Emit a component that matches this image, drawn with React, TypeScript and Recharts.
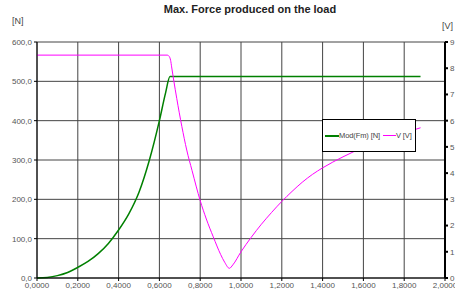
import React from "react";
import { CartesianGrid, Line, LineChart, XAxis, YAxis } from "recharts";

// Mod(Fm) [N] against travel
const forceX = [
  0, 0.05, 0.1, 0.15, 0.2, 0.25, 0.3, 0.35, 0.4, 0.45, 0.5, 0.55, 0.6, 0.63,
  0.652, 1.88,
];
const forceN = [
  0, 1.5, 6, 14, 27, 42, 62, 88, 122, 163, 218, 298, 400, 470, 512, 512,
];

// V [V] against travel
const voltX = [
  0, 0.639, 0.648, 0.655, 0.66, 0.67, 0.685, 0.71, 0.734, 0.76, 0.8, 0.83,
  0.864, 0.9, 0.92, 0.943, 0.96, 1.0, 1.05, 1.1, 1.15, 1.2, 1.25, 1.3, 1.35,
  1.4, 1.5, 1.6, 1.7, 1.8, 1.88,
];
const voltV = [
  8.5, 8.5, 8.45, 8.3, 8.05, 7.55, 6.85, 5.78, 4.88, 4.1, 2.95, 2.25, 1.57, 0.9,
  0.6, 0.37, 0.5, 1.0, 1.55, 2.05, 2.5, 2.92, 3.3, 3.65, 3.95, 4.2, 4.62, 4.98,
  5.27, 5.53, 5.73,
];

const xTicks = [0, 0.2, 0.4, 0.6, 0.8, 1.0, 1.2, 1.4, 1.6, 1.8, 2.0];
const forceTicks = [0, 100, 200, 300, 400, 500, 600];
const voltTicks = [0, 1, 2, 3, 4, 5, 6, 7, 8, 9];

const forceData = forceX.map((x, i) => ({ x, fm: forceN[i] }));
const voltData = voltX.map((x, i) => ({ x, v: voltV[i] }));

const FONT = "'Liberation Sans', Arial, sans-serif";
const tickStyle = { fill: "#555", fontSize: 8, fontFamily: FONT };

function LegendBox() {
  return (
    <div
      style={{
        position: "absolute",
        left: 322,
        top: 119,
        width: 92,
        height: 31,
        background: "#fff",
        border: "1px solid #000",
        display: "flex",
        alignItems: "center",
        fontSize: 7.5,
        color: "#444",
        whiteSpace: "nowrap",
        letterSpacing: -0.1,
      }}
    >
      <span style={{ width: 2 }} />
      <span style={{ width: 14, height: 2, background: "#008000" }} />
      <span>Mod(Fm) [N]</span>
      <span style={{ width: 3 }} />
      <span style={{ width: 13, height: 1, background: "#ff00ff" }} />
      <span>V [V]</span>
    </div>
  );
}

export default function App() {
  return (
    <div
      style={{
        position: "absolute",
        left: 0,
        top: 0,
        width: 455,
        height: 290,
        background: "#fff",
        fontFamily: FONT,
      }}
    >
      <div
        style={{
          position: "absolute",
          left: 0,
          width: 500,
          top: 3,
          textAlign: "center",
          fontSize: 11,
          fontWeight: "bold",
          color: "#222",
        }}
      >
        Max. Force produced on the load
      </div>
      <div style={{ position: "absolute", left: 12, top: 16, fontSize: 9, color: "#444" }}>
        [N]
      </div>
      <div style={{ position: "absolute", left: 442, top: 21, fontSize: 9, color: "#444" }}>
        [V]
      </div>
      <LineChart
        width={455}
        height={290}
        margin={{ top: 42, right: 0, bottom: 0, left: 0 }}
      >
        <CartesianGrid
          yAxisId="force"
          stroke="#444"
          strokeWidth={1}
          horizontalValues={forceTicks}
          verticalValues={xTicks}
        />
        <XAxis
          type="number"
          dataKey="x"
          domain={[0, 2]}
          ticks={xTicks}
          height={12}
          allowDuplicatedCategory={false}
          tick={tickStyle}
          tickSize={3}
          tickMargin={1}
          stroke="#000"
          interval={0}
          tickFormatter={(v: number) => v.toFixed(4).replace(".", ",")}
        />
        <YAxis
          yAxisId="force"
          type="number"
          domain={[0, 600]}
          ticks={forceTicks}
          width={37}
          tick={tickStyle}
          tickSize={3}
          tickMargin={2}
          stroke="#000"
          interval={0}
          tickFormatter={(v: number) => v.toFixed(1).replace(".", ",")}
        />
        <YAxis
          yAxisId="volt"
          orientation="right"
          type="number"
          domain={[0, 9]}
          ticks={voltTicks}
          width={10}
          tick={tickStyle}
          tickSize={3}
          tickMargin={2}
          stroke="#000"
          strokeWidth={2}
          interval={0}
        />
        <Line
          yAxisId="force"
          data={forceData}
          dataKey="fm"
          name="Mod(Fm) [N]"
          type="monotone"
          stroke="#008000"
          strokeWidth={1.5}
          dot={false}
          isAnimationActive={false}
        />
        <Line
          yAxisId="volt"
          data={voltData}
          dataKey="v"
          name="V [V]"
          type="monotone"
          stroke="#ff00ff"
          strokeWidth={1}
          dot={false}
          isAnimationActive={false}
        />
      </LineChart>
      <LegendBox />
    </div>
  );
}
